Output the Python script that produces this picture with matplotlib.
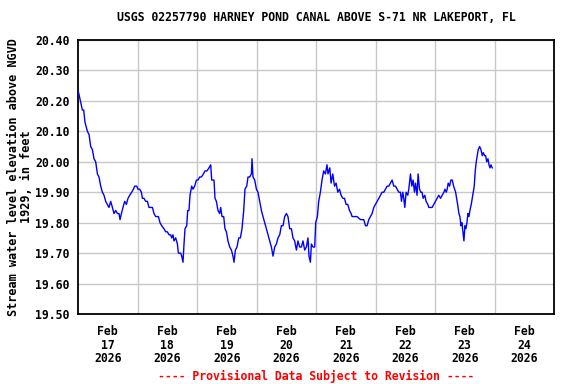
import numpy as np
import matplotlib
matplotlib.use("Agg")
import matplotlib.pyplot as plt
import matplotlib.dates as mdates
from datetime import datetime, timedelta

# ---- data ----
start_time = datetime(2026, 2, 17, 0, 0)
hours = [0.16, 0.97, 1.77, 2.30, 2.82, 3.79, 4.44, 5.12, 5.81, 6.45, 7.14, 7.83, 8.47, 9.16,
         9.84, 10.49, 11.17, 11.86, 12.50, 13.19, 13.88, 14.52, 15.21, 15.89, 16.54, 16.94,
         17.51, 18.15, 18.84, 19.52, 20.17, 20.85, 21.66, 22.35, 22.87, 23.68, 24.20, 24.89,
         25.57, 25.98, 26.62, 27.31, 27.99, 28.64, 30.01, 30.66, 31.34, 32.43, 33.08, 33.76,
         34.69, 35.37, 36.06, 36.71, 37.39, 37.79, 38.32, 38.72, 39.41, 40.09, 40.50, 41.42,
         41.83, 42.35, 42.76, 43.16, 43.85, 44.25, 44.77, 45.18, 45.86, 46.39, 47.07, 47.76,
         48.40, 49.09, 49.77, 50.58, 51.23, 52.03, 52.84, 53.53, 53.93, 54.86, 55.26, 55.82,
         56.47, 57.16, 57.56, 58.08, 58.77, 59.29, 59.86, 60.50, 61.19, 61.88, 62.52, 62.92,
         63.49, 64.13, 64.82, 65.50, 66.15, 66.84, 67.36, 68.05, 68.57, 69.26, 69.94, 70.19,
         70.59, 71.28, 71.96, 72.60, 73.29, 73.98, 74.62, 75.31, 75.99, 76.64, 77.32, 78.01,
         78.66, 79.34, 80.03, 80.67, 81.36, 82.04, 82.69, 83.37, 84.06, 84.70, 85.39, 86.07,
         86.72, 87.40, 88.09, 88.73, 89.42, 90.11, 90.75, 91.44, 92.12, 92.77, 93.17, 93.74,
         94.14, 94.79, 95.47, 95.88, 96.56, 97.09, 97.77, 98.42, 99.10, 99.79, 100.44, 100.84,
         101.56, 102.09, 102.77, 103.46, 104.10, 104.79, 105.48, 106.12, 106.81, 107.49,
         108.14, 108.82, 109.51, 110.15, 110.56, 111.24, 112.57, 113.94, 114.59, 115.27,
         115.96, 116.60, 117.29, 117.98, 118.62, 119.31, 119.99, 120.64, 121.32, 122.01,
         122.65, 123.34, 124.03, 124.67, 125.36, 126.04, 126.69, 127.37, 128.06, 128.70,
         129.39, 130.07, 130.48, 131.00, 131.41, 131.81, 132.34, 133.02, 133.42, 134.11,
         134.64, 135.16, 135.72, 136.13, 136.77, 137.18, 137.74, 138.27, 138.80, 139.20,
         139.89, 140.41, 141.10, 141.50, 142.83, 143.52, 144.20, 144.85, 145.53, 146.22,
         146.90, 147.59, 148.00, 148.52, 148.92, 149.33, 149.89, 150.42, 150.95, 151.51,
         151.91, 152.32, 152.72, 153.12, 153.65, 154.05, 154.46, 154.86, 155.27, 155.67,
         156.07, 156.48, 156.88, 157.28, 157.69, 158.09, 158.62, 159.02, 159.43, 159.83,
         160.23, 160.64, 161.04, 161.44, 162.01, 162.53, 163.06, 163.46, 164.03, 164.43,
         164.84, 165.36, 165.77, 166.17, 166.57, 167.10]
elevation = [20.23, 20.20, 20.17, 20.17, 20.13, 20.10, 20.09, 20.05, 20.04, 20.01, 20.00, 19.96,
             19.95, 19.92, 19.90, 19.89, 19.87, 19.86, 19.85, 19.87, 19.85, 19.83, 19.84, 19.83,
             19.83, 19.81, 19.83, 19.85, 19.87, 19.86, 19.88, 19.89, 19.90, 19.91, 19.92, 19.92,
             19.91, 19.91, 19.90, 19.88, 19.88, 19.87, 19.87, 19.85, 19.85, 19.83, 19.82, 19.82,
             19.80, 19.79, 19.78, 19.77, 19.77, 19.76, 19.76, 19.75, 19.76, 19.74, 19.75, 19.73,
             19.70, 19.70, 19.69, 19.67, 19.73, 19.78, 19.79, 19.84, 19.84, 19.89, 19.92, 19.91,
             19.92, 19.94, 19.94, 19.95, 19.95, 19.96, 19.97, 19.97, 19.98, 19.99, 19.94, 19.94,
             19.88, 19.87, 19.84, 19.83, 19.85, 19.82, 19.82, 19.78, 19.77, 19.74, 19.72, 19.71,
             19.69, 19.67, 19.71, 19.72, 19.75, 19.75, 19.78, 19.84, 19.91, 19.92, 19.95, 19.95,
             19.96, 20.01, 19.95, 19.94, 19.91, 19.90, 19.87, 19.84, 19.82, 19.80, 19.78, 19.76,
             19.74, 19.72, 19.69, 19.72, 19.73, 19.75, 19.76, 19.79, 19.79, 19.82, 19.83, 19.82,
             19.78, 19.78, 19.75, 19.74, 19.71, 19.74, 19.72, 19.72, 19.74, 19.71, 19.72, 19.75,
             19.69, 19.67, 19.73, 19.72, 19.72, 19.80, 19.82, 19.87, 19.90, 19.94, 19.97, 19.96,
             19.99, 19.96, 19.98, 19.93, 19.96, 19.92, 19.93, 19.90, 19.91, 19.89, 19.88, 19.88,
             19.86, 19.86, 19.84, 19.83, 19.82, 19.82, 19.82, 19.81, 19.81, 19.81, 19.79, 19.79,
             19.81, 19.82, 19.83, 19.85, 19.86, 19.87, 19.88, 19.89, 19.90, 19.90, 19.91, 19.92,
             19.92, 19.93, 19.94, 19.92, 19.92, 19.91, 19.90, 19.90, 19.87, 19.90, 19.88, 19.85,
             19.90, 19.89, 19.91, 19.96, 19.92, 19.94, 19.90, 19.93, 19.89, 19.96, 19.91, 19.90,
             19.90, 19.88, 19.89, 19.87, 19.86, 19.85, 19.85, 19.86, 19.87, 19.88, 19.89, 19.88,
             19.89, 19.90, 19.91, 19.90, 19.91, 19.93, 19.92, 19.94, 19.94, 19.92, 19.91, 19.90,
             19.88, 19.86, 19.83, 19.82, 19.79, 19.80, 19.77, 19.74, 19.79, 19.78, 19.80, 19.83,
             19.82, 19.84, 19.86, 19.88, 19.90, 19.92, 19.97, 20.00, 20.02, 20.04, 20.05, 20.04,
             20.02, 20.03, 20.02, 20.02, 20.00, 20.01, 19.99, 19.98, 19.99, 19.98]
y_ticks = [19.50, 19.60, 19.70, 19.80, 19.90, 20.00, 20.10, 20.20, 20.30, 20.40]
label_days = [17, 18, 19, 20, 21, 22, 23, 24]

title = "USGS 02257790 HARNEY POND CANAL ABOVE S-71 NR LAKEPORT, FL"
ylabel = "Stream water level elevation above NGVD\n1929, in feet"
footnote = "---- Provisional Data Subject to Revision ----"

# ---- plot ----
times = [start_time + timedelta(hours=h) for h in hours]
font = {"family": "DejaVu Sans Mono", "weight": "bold", "size": 8.3}

fig = plt.figure(figsize=(5.76, 3.84), dpi=100)
ax = fig.add_axes([78 / 576, 1 - 314 / 384, 476 / 576, 274 / 384])

ax.plot(times, elevation, color="#0000ff", lw=1.0, zorder=3)

ax.set_ylim(19.50, 20.40)
ax.set_yticks(y_ticks)
ax.set_yticklabels([f"{v:.2f}" for v in y_ticks], fontdict=font)

ax.set_xlim(datetime(2026, 2, 17), datetime(2026, 2, 25))
day_noons = [datetime(2026, 2, d, 12) for d in label_days]
ax.set_xticks(day_noons)
ax.set_xticklabels([d.strftime("%b\n%d\n%Y") for d in day_noons], fontdict=font,
                   linespacing=1.05)
ax.set_xticks([datetime(2026, 2, d) for d in range(18, 25)], minor=True)

ax.tick_params(axis="both", which="both", length=0)
ax.tick_params(axis="y", pad=6)
ax.tick_params(axis="x", pad=8)
ax.grid(False)
ax.yaxis.grid(True, color="#c8c8c8", lw=1.0)
ax.xaxis.grid(True, which="minor", color="#c8c8c8", lw=1.0)
for s in ax.spines.values():
    s.set_linewidth(1.3)
    s.set_color("black")

ax.set_title(title, fontdict=font, pad=14)
ax.set_ylabel(ylabel, fontdict={**font, "size": 8.6}, linespacing=1.0, labelpad=2)
fig.text(316 / 576, 1 - 376 / 384, footnote, color="#ff0000", ha="center", va="center",
         **font)

fig.savefig("out.png", dpi=100)
